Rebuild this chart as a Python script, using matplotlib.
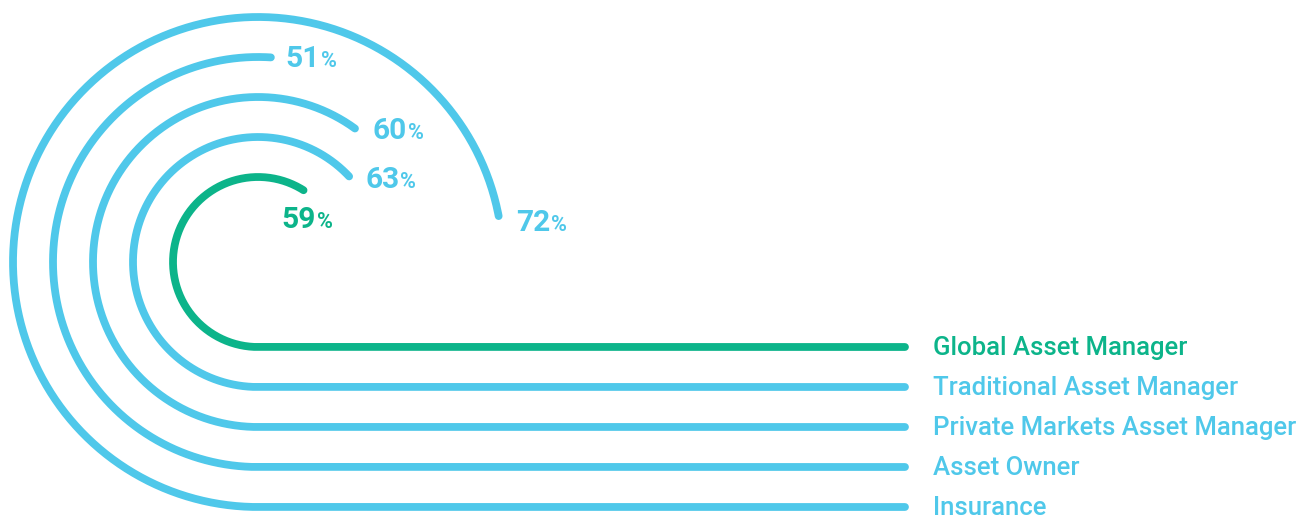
import numpy as np
import matplotlib
matplotlib.use("Agg")
import matplotlib.pyplot as plt

categories = ["Global Asset Manager", "Traditional Asset Manager",
              "Private Markets Asset Manager", "Asset Owner", "Insurance"]
values = [59, 63, 60, 51, 72]

BLUE = "#4fc8ea"
GREEN = "#0cb48a"
colors = [GREEN, BLUE, BLUE, BLUE, BLUE]

# layout in pixel units
cx, cy = 258, 262
radii = [85, 125, 165, 205, 245]
line_end = 905
label_x = 933
# offset of the percent label baseline from the arc end
offsets = [(-22, 38), (16, 12), (18, 10), (15, 10), (17, 15)]

plt.rcParams["font.family"] = ["Roboto", "DejaVu Sans"]

fig = plt.figure(figsize=(13.09, 5.19), dpi=100)
ax = fig.add_axes([0, 0, 1, 1])
ax.set_xlim(0, 1309)
ax.set_ylim(519, 0)
ax.axis("off")

for name, v, r, c, (dx, dy) in zip(categories, values, radii, colors, offsets):
    t = np.radians(np.linspace(0, v / 100 * 360, 400))
    xs = cx - r * np.sin(t)
    ys = cy + r * np.cos(t)
    xs = np.concatenate([[line_end], xs])
    ys = np.concatenate([[cy + r], ys])
    ax.plot(xs, ys, color=c, lw=5.6, solid_capstyle="round",
            solid_joinstyle="round")
    ax.text(label_x, cy + r + 1, name, color=c, fontsize=18.5,
            fontweight="medium", ha="left", va="center")
    ex, ey = xs[-1] + dx, ys[-1] + dy
    num = ax.text(ex, ey, str(v), color=c, fontsize=21.5, fontweight="bold",
                  ha="left", va="baseline")
    fig.canvas.draw()
    bb = num.get_window_extent()
    x1 = ax.transData.inverted().transform((bb.x1, bb.y0))[0]
    ax.text(x1 + 1, ey, "%", color=c, fontsize=15.5, fontweight="bold",
            ha="left", va="baseline")

fig.savefig("out.png", dpi=100)
